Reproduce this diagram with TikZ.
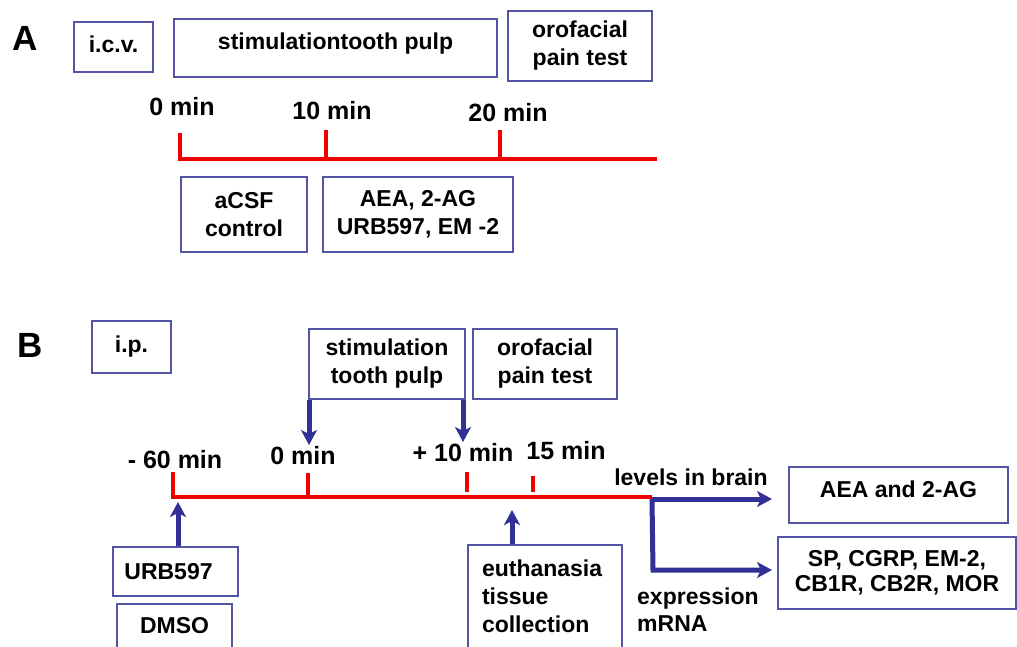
\documentclass[tikz,border=0pt]{standalone}
\usepackage{fontspec}
\setmainfont{Liberation Sans}
\usetikzlibrary{arrows.meta}
\definecolor{boxc}{RGB}{85,85,165}
\definecolor{arrc}{RGB}{48,48,150}
\definecolor{tlc}{RGB}{240,0,0}
\newcommand{\up}[2]{\raisebox{#1}[\height][\depth]{#2}}
\begin{document}
\begin{tikzpicture}[x=1pt,y=-1pt,
  bx/.style={draw=boxc, line width=1.6pt, inner sep=0pt, align=center,
             font=\bfseries\fontsize{23}{28}\selectfont},
  tm/.style={font=\bfseries\fontsize{25}{30}\selectfont, inner sep=0pt},
  lbl/.style={font=\bfseries\fontsize{23}{27}\selectfont, inner sep=0pt},
  panel/.style={font=\bfseries\fontsize{35}{40}\selectfont, inner sep=0pt},
  tline/.style={draw=tlc, line width=4.2pt, line join=miter},
  arr/.style={draw=arrc, line width=5pt, line join=miter,
              -{Stealth[length=15pt,width=16pt,inset=4pt]}},
]
\useasboundingbox[fill=white] (0,0) rectangle (1017,646);

% ---------------- Panel A ----------------
\node[panel] (labA) at (25,38) {A};
\node[bx, minimum width=79pt, minimum height=50pt] (icv) at (113.5,47) {\up{3pt}{i.c.v.}};
\node[bx, minimum width=323pt, minimum height=58pt] (stimA) at (335.5,48) {\up{4pt}{stimulationtooth pulp}};
\node[bx, minimum width=144pt, minimum height=70pt] (oroA) at (580,46) {orofacial\\pain test};

\node[tm] (a0lab) at (182,107) {0 min};
\node[tm] (a10lab) at (332,111) {10 min};
\node[tm] (a20lab) at (508,113) {20 min};

\coordinate (a0top) at (180,133);
\coordinate (a0bot) at (180,159);
\coordinate (aend) at (657,159);
\coordinate (a10top) at (326,130);
\coordinate (a10bot) at (326,159);
\coordinate (a20top) at (500,130);
\coordinate (a20bot) at (500,159);
\draw[tline] (a0top) -- (a0bot) -- (aend);
\draw[tline] (a10top) -- (a10bot);
\draw[tline] (a20top) -- (a20bot);

\node[bx, minimum width=126pt, minimum height=75pt] (acsf) at (244,214.5) {aCSF\\control};
\node[bx, minimum width=190pt, minimum height=75pt] (aeaA) at (418,214.5) {AEA, 2-AG\\URB597, EM -2};

% ---------------- Panel B ----------------
\node[panel] (labB) at (30,345) {B};
\node[bx, minimum width=79pt, minimum height=52pt] (ip) at (131.5,347) {i.p.};
\node[bx, minimum width=156pt, minimum height=70pt] (stimB) at (387,364) {stimulation\\tooth pulp};
\node[bx, minimum width=144pt, minimum height=70pt] (oroB) at (545,364) {orofacial\\pain test};

\node[tm] (b60lab) at (175,460) {- 60 min};
\node[tm] (b0lab) at (303,456) {0 min};
\node[tm] (b10lab) at (463,453) {+ 10 min};
\node[tm] (b15lab) at (566,451) {15 min};

\coordinate (b60top) at (173,472);
\coordinate (b60bot) at (173,497);
\coordinate (bend) at (652,497);
\coordinate (b0top) at (308,473);
\coordinate (b0bot) at (308,497);
\coordinate (b10top) at (467,472);
\coordinate (b10bot) at (467,492);
\coordinate (b15top) at (533,476);
\coordinate (b15bot) at (533,492);
\draw[tline] (b60top) -- (b60bot) -- (bend);
\draw[tline] (b0top) -- (b0bot);
\draw[tline] (b10top) -- (b10bot);
\draw[tline] (b15top) -- (b15bot);

% arrows from stimulation box
\coordinate (s0tip) at (309,445);
\coordinate (s10tip) at (463,442);
\draw[arr] (stimB.south west -| s0tip) -- (s0tip);
\draw[arr] (stimB.south east -| s10tip) -- (s10tip);

% lower boxes
\node[bx, minimum width=125pt, minimum height=49pt] (urb) at (175.5,571.5) {\hspace*{-14pt}URB597};
\node[bx, minimum width=115pt, minimum height=44pt] (dmso) at (174.5,626) {DMSO};
\coordinate (urbtip) at (178,502);
\draw[arr] (urb.north -| urbtip) -- (urbtip);

\node[bx, text width=126pt, inner xsep=14pt, minimum height=103pt, align=left] (euth) at (545,596.5)
  {euthanasia\\tissue\\collection};
\coordinate (euthtip) at (512,510);
\draw[arr] (euth.north -| euthtip) -- (euthtip);

% split to outcomes
\coordinate (split) at (652,499);
\coordinate (splitdn) at (653,570);
\coordinate (lvtip) at (772,499);
\coordinate (extip) at (772,570);
\draw[arr] (split) -- (lvtip);
\draw[arr] (split) -- (splitdn) -- (extip);

\node[lbl] (lvl) at (691,477) {levels in brain};
\node[lbl, align=left, anchor=west] (expr) at (637,609.5) {expression\\mRNA};

\node[bx, minimum width=219pt, minimum height=56pt] (aeaB) at (898.5,495) {\up{6pt}{AEA and 2-AG}};
\node[bx, minimum width=238pt, minimum height=72pt, font=\bfseries\fontsize{23}{25}\selectfont] (sp) at (897,573) {SP, CGRP, EM-2,\\CB1R, CB2R, MOR};
\end{tikzpicture}
\end{document}
